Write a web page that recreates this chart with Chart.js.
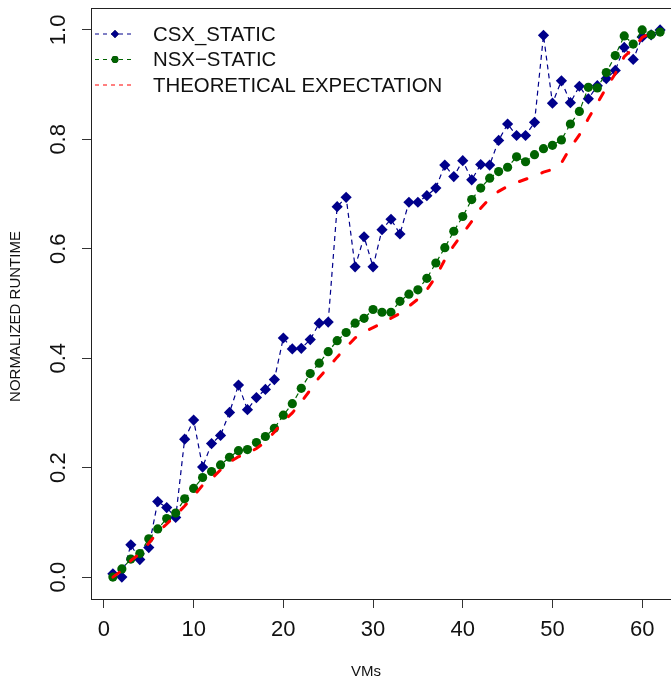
<!DOCTYPE html>
<html>
<head>
<meta charset="utf-8">
<style>
  html, body { margin: 0; padding: 0; background: #ffffff; overflow: hidden; }
  canvas { display: block; }
</style>
<script src="https://cdn.jsdelivr.net/npm/chart.js@4.4.1/dist/chart.umd.min.js"></script>
</head>
<body>
<canvas id="runtimeChart" width="700" height="680"></canvas>
<script>
// Number of VMs on the x axis
const vms = [1, 2, 3, 4, 5, 6, 7, 8, 9, 10, 11, 12, 13, 14, 15, 16, 17, 18, 19, 20,
  21, 22, 23, 24, 25, 26, 27, 28, 29, 30, 31, 32, 33, 34, 35, 36, 37, 38, 39, 40,
  41, 42, 43, 44, 45, 46, 47, 48, 49, 50, 51, 52, 53, 54, 55, 56, 57, 58, 59, 60, 61, 62];

// Normalized runtime per configuration
const csxStatic = [0.006, 0.000, 0.059, 0.032, 0.054, 0.138, 0.127, 0.109, 0.252, 0.287,
  0.201, 0.244, 0.259, 0.301, 0.351, 0.306, 0.328, 0.343, 0.361, 0.437,
  0.417, 0.418, 0.434, 0.464, 0.466, 0.677, 0.694, 0.567, 0.622, 0.567,
  0.635, 0.654, 0.627, 0.685, 0.685, 0.697, 0.711, 0.753, 0.732, 0.761,
  0.726, 0.754, 0.753, 0.798, 0.828, 0.807, 0.807, 0.831, 0.990, 0.866,
  0.907, 0.867, 0.897, 0.874, 0.898, 0.911, 0.926, 0.968, 0.946, 0.987, 0.991, 1.000];

const nsxStatic = [0.000, 0.015, 0.033, 0.043, 0.070, 0.088, 0.107, 0.117, 0.143, 0.162,
  0.182, 0.193, 0.205, 0.219, 0.231, 0.233, 0.246, 0.257, 0.272, 0.296,
  0.317, 0.345, 0.372, 0.391, 0.412, 0.432, 0.447, 0.464, 0.473, 0.489,
  0.484, 0.484, 0.504, 0.517, 0.525, 0.546, 0.574, 0.602, 0.632, 0.659,
  0.690, 0.711, 0.729, 0.741, 0.749, 0.768, 0.759, 0.772, 0.783, 0.789,
  0.799, 0.828, 0.851, 0.895, 0.894, 0.922, 0.953, 0.989, 0.974, 1.000, 0.991, 0.996];

const theoreticalExpectation = [0.000, 0.012, 0.030, 0.043, 0.062, 0.082, 0.097, 0.113, 0.130, 0.148,
  0.168, 0.180, 0.196, 0.210, 0.220, 0.226, 0.235, 0.247, 0.265, 0.285,
  0.300, 0.320, 0.342, 0.365, 0.383, 0.402, 0.420, 0.437, 0.448, 0.456,
  0.464, 0.473, 0.482, 0.495, 0.508, 0.525, 0.549, 0.580, 0.606, 0.628,
  0.650, 0.674, 0.692, 0.705, 0.714, 0.721, 0.727, 0.733, 0.740, 0.745,
  0.757, 0.785, 0.808, 0.838, 0.866, 0.894, 0.920, 0.951, 0.966, 0.986, 0.995, 1.000];

// Axis ticks
const xTickValues = [0, 10, 20, 30, 40, 50, 60];
const xTickLabels = ['0', '10', '20', '30', '40', '50', '60'];
const yTickValues = [0, 0.2, 0.4, 0.6, 0.8, 1.0];
const yTickLabels = ['0.0', '0.2', '0.4', '0.6', '0.8', '1.0'];

const seriesNames = ['CSX_STATIC', 'NSX\u2212STATIC', 'THEORETICAL EXPECTATION'];
const xTitle = 'VMs';
const yTitle = 'NORMALIZED RUNTIME';

const FONT = '"Liberation Sans", Arial, Helvetica, sans-serif';
const NAVY = '#00008B';
const GREEN = '#006400';
const RED = '#FF0000';
const INK = '#111111';

const toPoints = values => vms.map((v, i) => ({ x: v, y: values[i] }));

// Text, box and legend drawn around the plotting region
const frame = {
  id: 'frame',
  afterDraw(chart) {
    const ctx = chart.ctx;
    const area = chart.chartArea;
    const xs = chart.scales.x;
    const ys = chart.scales.y;
    ctx.save();

    // plot box
    ctx.strokeStyle = '#222222';
    ctx.lineWidth = 1;
    ctx.setLineDash([]);
    ctx.strokeRect(Math.round(area.left) + 0.5, Math.round(area.top) + 0.5,
      Math.round(area.right - area.left), Math.round(area.bottom - area.top));

    // tick labels
    ctx.fillStyle = INK;
    ctx.font = '22px ' + FONT;
    ctx.textAlign = 'center';
    ctx.textBaseline = 'alphabetic';
    xTickValues.forEach((v, i) => {
      ctx.fillText(xTickLabels[i], xs.getPixelForValue(v), area.bottom + 37);
    });
    yTickValues.forEach((v, i) => {
      ctx.save();
      ctx.translate(area.left - 26, ys.getPixelForValue(v));
      ctx.rotate(-Math.PI / 2);
      ctx.fillText(yTickLabels[i], 0, 0);
      ctx.restore();
    });

    // axis titles
    ctx.font = '15px ' + FONT;
    ctx.fillText(xTitle, 366, area.bottom + 77);
    ctx.save();
    ctx.translate(20, (area.top + area.bottom) / 2 + 13);
    ctx.rotate(-Math.PI / 2);
    ctx.fillText(yTitle, 0, 0);
    ctx.restore();

    // legend
    const rowY = [33.5, 59, 84.5];
    chart.data.datasets.forEach((ds, i) => {
      const y = rowY[i];
      ctx.strokeStyle = ds.borderColor;
      ctx.lineWidth = 1;
      ctx.setLineDash([4, 4]);
      ctx.beginPath();
      ctx.moveTo(95, y + 0.5);
      ctx.lineTo(134, y + 0.5);
      ctx.stroke();
      ctx.setLineDash([]);
      if (ds.pointRadius > 0) {
        Chart.helpers.drawPoint(ctx, {
          pointStyle: ds.pointStyle,
          radius: ds.pointStyle === 'rectRot' ? 4 : 3.4,
          rotation: 0,
          borderWidth: 0
        }, 115, y + 0.5);
        ctx.fillStyle = ds.backgroundColor;
        ctx.fill();
      }
      ctx.fillStyle = INK;
      ctx.font = '20.4px ' + FONT;
      ctx.textAlign = 'left';
      ctx.fillText(ds.label, 153, y + 7.2);
    });

    ctx.restore();
  }
};

const fixedTicks = values => scale => { scale.ticks = values.map(v => ({ value: v })); };

new Chart(document.getElementById('runtimeChart'), {
  type: 'line',
  data: {
    datasets: [
      {
        label: seriesNames[0],
        data: toPoints(csxStatic),
        borderColor: NAVY,
        backgroundColor: NAVY,
        borderWidth: 1.2,
        borderDash: [5, 4],
        pointStyle: 'rectRot',
        pointRadius: 5.6,
        pointBorderWidth: 0,
        pointBackgroundColor: NAVY,
        order: 3
      },
      {
        label: seriesNames[1],
        data: toPoints(nsxStatic),
        borderColor: GREEN,
        backgroundColor: GREEN,
        borderWidth: 1.2,
        borderDash: [5, 4],
        pointStyle: 'circle',
        pointRadius: 4.6,
        pointBorderWidth: 0,
        pointBackgroundColor: GREEN,
        order: 2
      },
      {
        label: seriesNames[2],
        data: toPoints(theoreticalExpectation),
        borderColor: RED,
        backgroundColor: RED,
        borderWidth: 3,
        borderDash: [8, 16],
        borderCapStyle: 'round',
        pointRadius: 0,
        order: 1
      }
    ]
  },
  options: {
    responsive: false,
    animation: false,
    events: [],
    layout: { padding: { top: 8, right: 18, left: 0, bottom: 0 } },
    elements: { line: { tension: 0 } },
    plugins: { legend: { display: false }, tooltip: { enabled: false }, title: { display: false } },
    scales: {
      x: {
        type: 'linear',
        min: -1.44,
        max: 64.44,
        afterBuildTicks: fixedTicks(xTickValues),
        afterFit: s => { s.height = 81; },
        ticks: { display: false, autoSkip: false },
        grid: { drawOnChartArea: false, drawTicks: true, tickLength: 9, color: '#333333', lineWidth: 1 },
        border: { display: false }
      },
      y: {
        type: 'linear',
        min: -0.04,
        max: 1.04,
        afterBuildTicks: fixedTicks(yTickValues),
        afterFit: s => { s.width = 91; },
        ticks: { display: false, autoSkip: false },
        grid: { drawOnChartArea: false, drawTicks: true, tickLength: 9, color: '#333333', lineWidth: 1 },
        border: { display: false }
      }
    }
  },
  plugins: [frame]
});
</script>
</body>
</html>
